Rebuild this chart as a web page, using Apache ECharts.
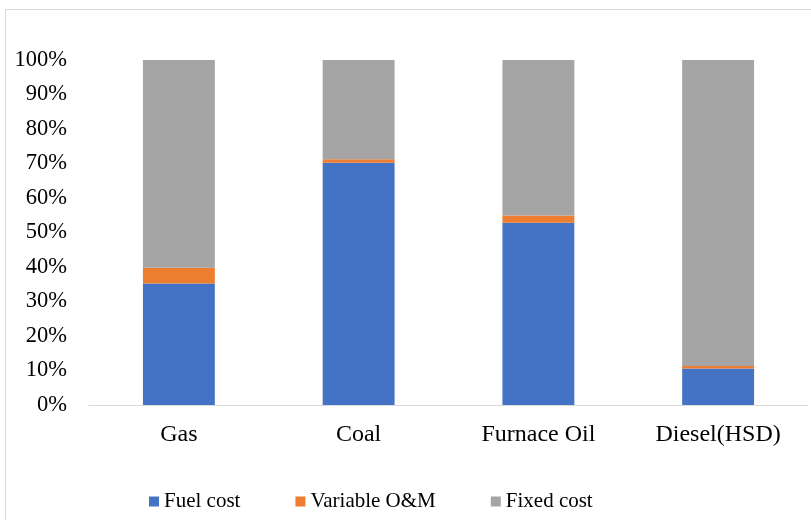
<!DOCTYPE html>
<html>
<head>
<meta charset="utf-8">
<script src="https://cdn.jsdelivr.net/npm/echarts@6/dist/echarts.min.js"></script>
<style>
  html, body { margin: 0; padding: 0; background: #fff; }
  #chart { width: 811px; height: 520px; }
</style>
</head>
<body>
<div id="chart"></div>
<script>
// Cost breakdown per fuel type (share of total, %)
const categories = ['Gas', 'Coal', 'Furnace Oil', 'Diesel(HSD)'];
const fuelCost = [35.2, 70.2, 52.8, 10.6];
const variableOM = [4.6, 1.0, 2.1, 0.7];
const fixedCost = [60.2, 28.8, 45.1, 88.7];
const yTicks = [0, 10, 20, 30, 40, 50, 60, 70, 80, 90, 100];

const font = 'Liberation Serif, Times New Roman, serif';
const colors = ['#4472c4', '#ed7d31', '#a5a5a5'];

const chart = echarts.init(document.getElementById('chart'));

function barSeries(name, data, color) {
  return {
    name: name,
    type: 'bar',
    stack: 'total',
    barWidth: '40%',
    data: data,
    itemStyle: { color: color },
    emphasis: { disabled: true }
  };
}

chart.setOption({
  animation: false,
  color: colors,
  grid: { left: 89, right: 3, top: 60, bottom: 115, containLabel: false },
  graphic: [{
    type: 'rect',
    shape: { x: 5.5, y: 9.5, width: 840, height: 540 },
    style: { fill: 'none', stroke: '#d9d9d9', lineWidth: 1 },
    silent: true
  }],
  legend: {
    left: 144,
    top: 486,
    itemWidth: 10,
    itemHeight: 10,
    itemGap: 55,
    icon: 'rect',
    textStyle: { fontFamily: font, fontSize: 21, color: '#000' },
    data: ['Fuel cost', 'Variable O&M', 'Fixed cost']
  },
  xAxis: {
    type: 'category',
    data: categories,
    axisLine: { lineStyle: { color: '#d9d9d9', width: 1 } },
    axisTick: { show: false },
    axisLabel: { fontFamily: font, fontSize: 24, color: '#000', margin: 18 }
  },
  yAxis: {
    type: 'value',
    min: yTicks[0],
    max: yTicks[yTicks.length - 1],
    interval: 10,
    splitLine: { show: false },
    axisLine: { show: false },
    axisTick: { show: false },
    axisLabel: {
      fontFamily: font, fontSize: 22.5, color: '#000', margin: 22,
      formatter: v => v + '%'
    }
  },
  series: [
    barSeries('Fuel cost', fuelCost, colors[0]),
    barSeries('Variable O&M', variableOM, colors[1]),
    barSeries('Fixed cost', fixedCost, colors[2])
  ]
});
</script>
</body>
</html>
